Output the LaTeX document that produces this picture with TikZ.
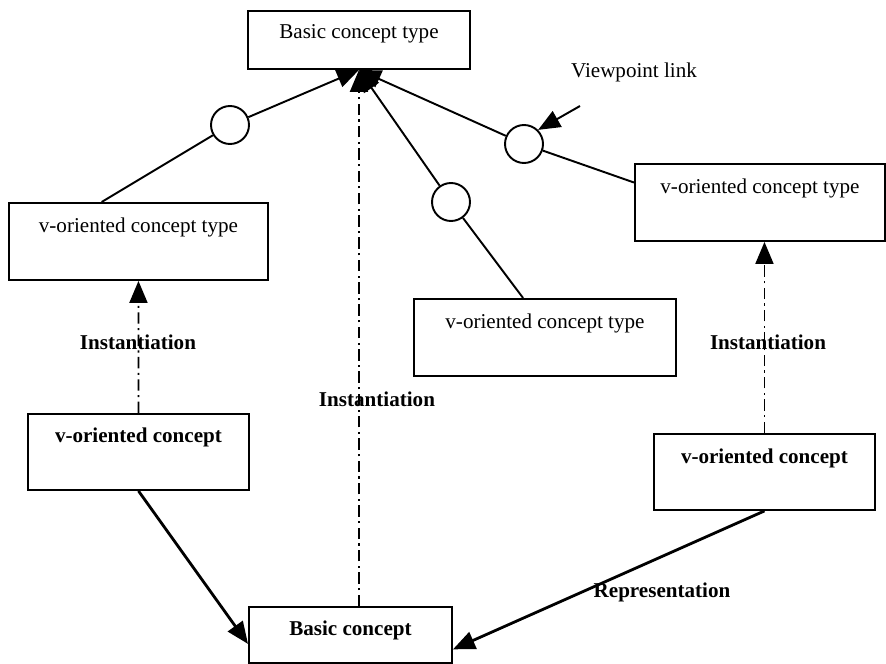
\documentclass[tikz,border=0pt]{standalone}
\usepackage{fontspec}
\setmainfont{Liberation Serif}
\usetikzlibrary{arrows.meta}
\begin{document}
\begin{tikzpicture}[font=\fontsize{12pt}{14pt}\selectfont,
  box/.style={draw,line width=1.1pt,anchor=north west,inner ysep=0pt},
  typebox/.style={box,text height=0.6cm,text depth=0.94cm},
  ring/.style={draw,circle,line width=1.1pt,minimum size=0.76cm,inner sep=0pt},
  link/.style={line width=1.1pt},
  inst/.style={line width=1.1pt,dash pattern=on 6.5pt off 2.5pt on 1.2pt off 2.5pt},
  rep/.style={line width=1.6pt},
  lbl/.style={font=\fontsize{12pt}{14pt}\selectfont\bfseries},
  >={Triangle[length=0.44cm,width=0.36cm]}]
\useasboundingbox (0,0) rectangle (17.72,-13.28);

\node[box,minimum width=4.44cm,text height=0.56cm,text depth=0.6cm](bt) at (4.94,-0.20) {Basic concept type};
\node[typebox,minimum width=5.18cm](v1) at (0.16,-4.04) {v-oriented concept type};
\node[typebox,minimum width=5.24cm](v2) at (8.26,-5.96) {v-oriented concept type};
\node[typebox,minimum width=5.00cm](v3) at (12.68,-3.26) {v-oriented concept type};

\node[ring](r1) at (4.60,-2.50) {};
\node[ring](r2) at (9.02,-4.04) {};
\node[ring](r3) at (10.48,-2.88) {};

\draw[link] (v1.133) -- (r1);
\draw[link,->] (r1) -- (bt.south);
\draw[link] (v2.119) -- (r2);
\draw[link,->] (r2) -- (bt.south);
\draw[link] (v3.171) -- (r3);
\draw[link,->] (r3) -- (bt.south);

\node(vp) at (12.68,-1.44) {Viewpoint link};
\coordinate(vpt) at (11.60,-2.12);
\draw[link,->] (vpt) -- (r3.north east);

\node[box,lbl,minimum width=4.42cm,text height=0.58cm,text depth=0.94cm](c1) at (0.54,-8.26) {v-oriented concept};
\node[box,lbl,minimum width=4.42cm,text height=0.60cm,text depth=0.92cm](c2) at (13.06,-8.66) {v-oriented concept};
\node[box,lbl,minimum width=4.06cm,text height=0.58cm,text depth=0.54cm](b) at (4.96,-12.12) {Basic concept};

\draw[inst,->] (c1.north) -- (v1.south);
\draw[inst,->] (c2.north) -- (c2.north |- v3.south);
\draw[inst,->] (bt.south |- b.north) -- (bt.south);

\node[lbl](i1) at (2.76,-6.84) {Instantiation};
\node[lbl](i3) at (15.36,-6.84) {Instantiation};
\node[lbl](i2) at (7.54,-7.98) {Instantiation};

\draw[rep,->] (c1.south) -- (b.185);
\draw[rep,->] (c2.south) -- (b.-8);
\node[lbl](rp) at (13.24,-11.84) {Representation};

\end{tikzpicture}
\end{document}
